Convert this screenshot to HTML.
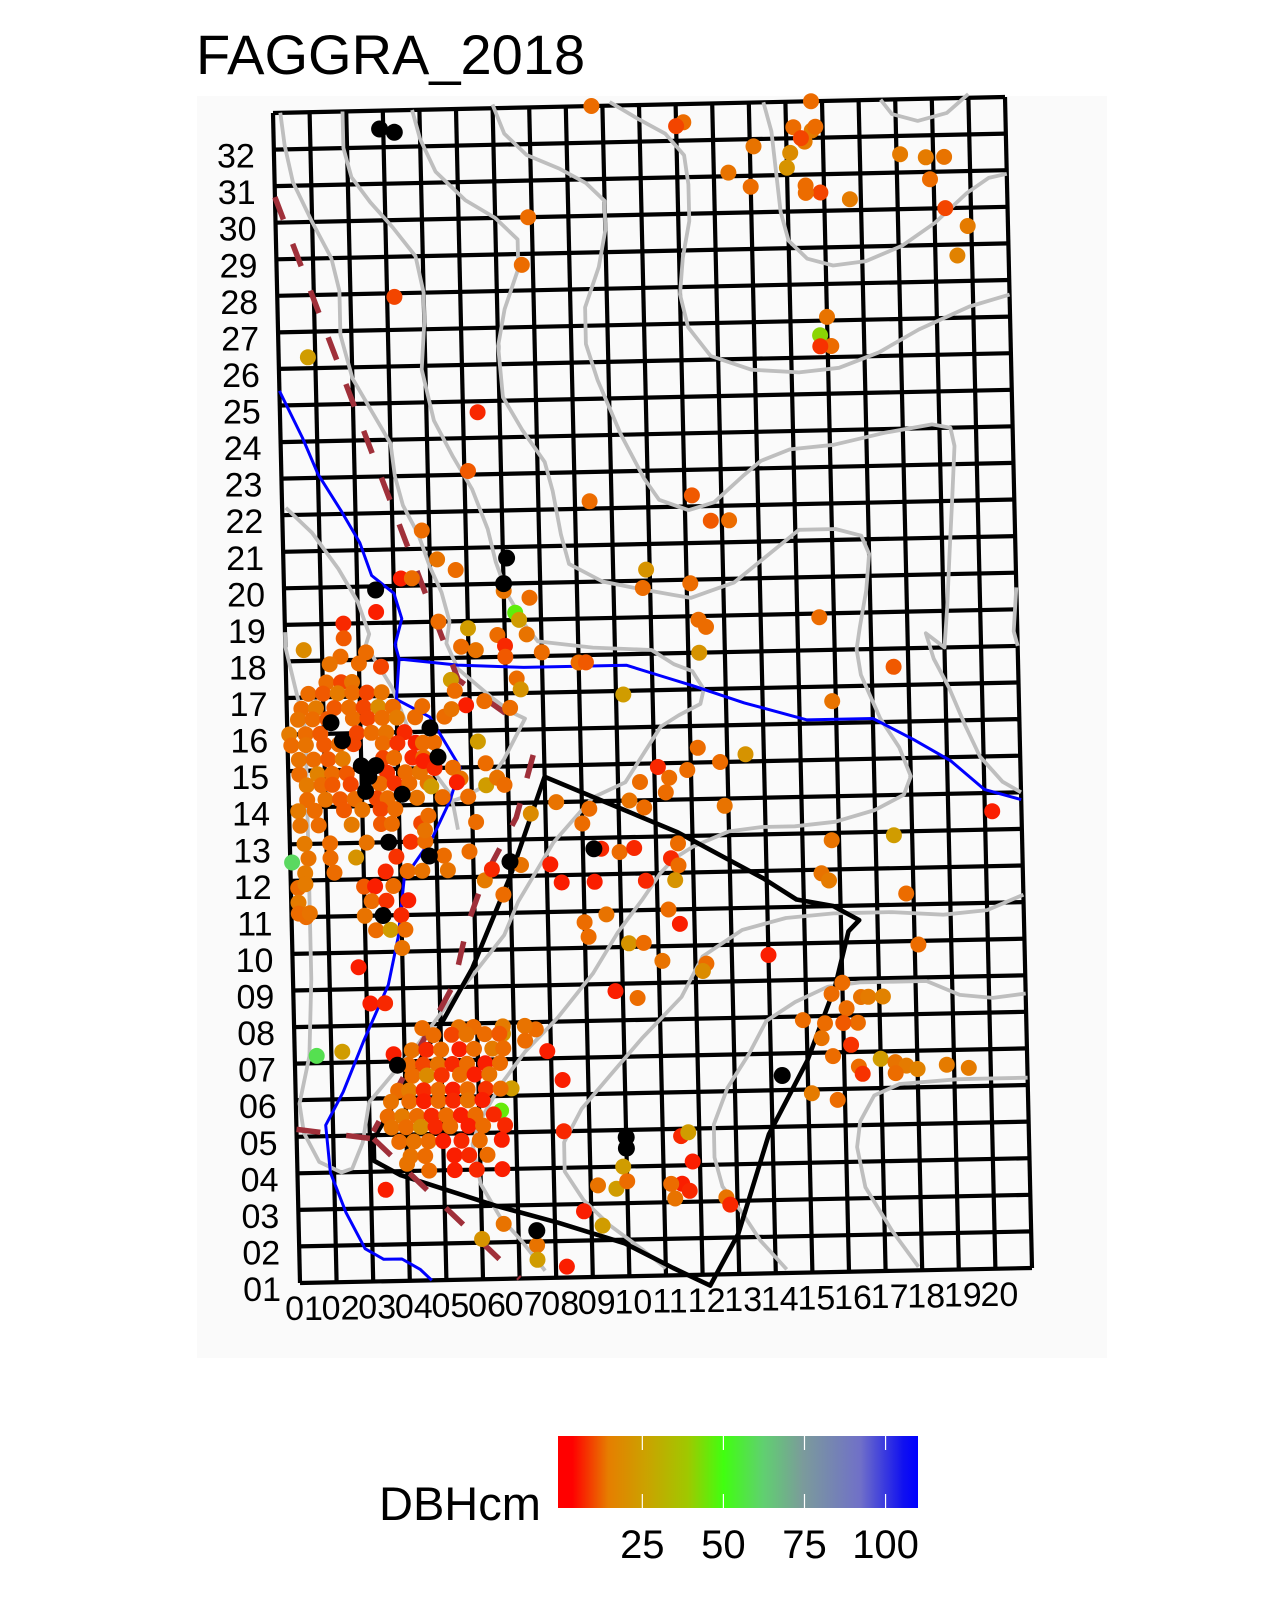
<!DOCTYPE html>
<html><head><meta charset="utf-8"><style>
html,body{margin:0;padding:0;background:#fff;}
svg{display:block;font-family:"Liberation Sans",Arial,sans-serif;}
</style></head><body>
<svg id="chart" width="1284" height="1612" viewBox="0 0 1284 1612" xmlns="http://www.w3.org/2000/svg">
<rect x="0" y="0" width="1284" height="1612" fill="#ffffff"/>
<text x="196" y="74" font-size="56" fill="#000">FAGGRA_2018</text>
<rect x="197" y="96" width="910" height="1262" fill="#fafafa"/>
<g id="gridG"></g>
<g id="contourG"></g>
<g id="streamG"></g>
<g id="plotG"></g>
<g id="dashG"></g>
<g id="treeG"></g>
<g id="deadG"></g>
<g id="rowLabG"></g>
<g id="colLabG"></g>
<g>
<defs><linearGradient id="lg" x1="0" x2="1" y1="0" y2="0">
<stop offset="0" stop-color="#ff0000"/><stop offset="0.04" stop-color="#ff0000"/>
<stop offset="0.14" stop-color="#e67e00"/><stop offset="0.25" stop-color="#c9a400"/>
<stop offset="0.36" stop-color="#a0c800"/><stop offset="0.46" stop-color="#40ff10"/>
<stop offset="0.57" stop-color="#60d070"/><stop offset="0.68" stop-color="#7b9b9b"/>
<stop offset="0.84" stop-color="#7070c8"/><stop offset="0.96" stop-color="#1010f0"/><stop offset="1" stop-color="#0000ff"/>
</linearGradient></defs>
<text x="379" y="1520" font-size="47" fill="#000">DBHcm</text>
<rect x="558" y="1436" width="360" height="72" fill="url(#lg)"/>
<g id="legTicks"></g>
</g>
</svg>
<script>
// ---- data (grid coordinates: column units 0-20, row units 0-32) ----
const colLabels = ["01","02","03","04","05","06","07","08","09","10","11","12","13","14","15","16","17","18","19","20"];
const rowLabels = ["01","02","03","04","05","06","07","08","09","10","11","12","13","14","15","16","17","18","19","20","21","22","23","24","25","26","27","28","29","30","31","32"];
const legendTicks = [25, 50, 75, 100];

const treesNorth = [[8.7,32.0,12],[11.2,31.5,12],[11.0,31.4,8],[14.7,32.0,12],[14.2,31.3,12],[14.7,31.2,16],[14.8,31.3,12],[14.5,30.9,16],[14.1,30.6,20],[14.4,31.0,8],[13.1,30.8,14],[14.0,30.2,22],[12.4,30.1,14],[13.0,29.7,12],[14.5,29.7,12],[14.9,29.5,8],[14.5,29.5,12],[15.7,29.3,16],[17.1,30.5,16],[17.8,30.4,16],[18.3,30.4,14],[17.9,29.8,12],[18.3,29.0,8],[18.9,28.5,16],[18.6,27.7,18],[6.9,29.0,12],[6.7,27.7,12],[3.2,26.9,8],[0.8,25.3,24],[15.0,26.1,14],[14.8,25.6,40],[15.1,25.3,12],[14.8,25.3,6],[5.4,23.7,5],[5.1,22.1,10],[8.4,21.2,12],[11.2,21.3,10],[11.7,20.6,10],[12.2,20.6,12],[9.9,19.3,22],[9.8,18.8,12],[11.1,18.9,12],[11.3,17.9,12],[11.5,17.7,12],[11.3,17.0,22],[14.6,17.9,12],[16.6,16.5,10],[14.9,15.6,14]];

const treesWestUpper = [[3.8,20.5,12],[4.2,19.7,14],[4.7,19.4,12],[3.2,19.2,4],[3.5,19.2,12],[2.5,18.3,4],[6.0,18.8,14],[6.7,18.6,12],[6.3,18.2,46],[6.4,18.0,24],[5.0,17.8,24],[4.2,18.0,12],[1.6,18.0,5],[1.6,17.6,10],[0.5,17.3,20],[1.5,17.1,12],[2.2,17.2,12],[4.8,17.3,12],[5.2,17.2,14],[5.8,17.6,12],[6.0,17.3,5],[6.6,17.6,14],[7.0,17.1,12],[6.0,17.0,10],[8.0,16.8,12],[8.2,16.8,10],[6.3,16.4,12],[6.4,16.1,22],[4.5,16.4,24],[4.6,16.1,12],[4.9,15.7,4],[5.4,15.8,12],[9.2,15.9,24],[6.1,15.6,12],[2.0,16.9,12],[2.6,16.8,8],[1.2,16.9,14]];

const treesWestCluster = [[1.1,16.4,12],[1.5,16.4,8],[1.8,16.4,14],
[0.6,16.1,12],[1.0,16.1,10],[1.4,16.1,16],[1.8,16.1,12],[2.2,16.1,8],[2.6,16.1,14],
[0.4,15.7,12],[0.8,15.7,16],[1.3,15.7,10],[1.7,15.7,12],[2.1,15.7,8],[2.5,15.7,20],[2.9,15.7,12],
[0.3,15.4,14],[0.7,15.4,12],[1.1,15.4,10],[1.8,15.4,12],[2.2,15.4,8],[2.6,15.4,12],[3.0,15.4,16],[3.5,15.4,12],
[0.05,15.0,16],[0.5,15.0,12],[0.9,15.0,10],[1.9,15.0,8],[2.3,15.0,12],[2.7,15.0,14],[3.2,15.0,5],
[0.1,14.7,12],[0.5,14.7,14],[1.0,14.7,10],[1.4,14.7,12],[1.8,14.7,8],[2.6,14.7,12],[3.0,14.7,6],[3.5,14.7,4],[3.7,14.7,12],
[0.3,14.3,14],[0.7,14.3,12],[1.1,14.3,10],[1.5,14.3,16],[2.6,14.3,8],[2.9,14.3,12],[3.4,14.3,5],[3.7,14.3,12],
[0.3,13.9,12],[0.8,13.9,18],[1.2,13.9,12],[1.6,13.9,10],[2.7,13.9,6],[3.2,13.9,12],[3.6,13.9,14],
[0.5,13.6,16],[0.9,13.6,12],[1.2,13.6,10],[1.7,13.6,8],[2.5,13.6,12],[2.9,13.6,6],[3.3,13.6,12],[3.8,13.6,14],
[0.5,13.2,12],[1.0,13.2,14],[1.4,13.2,10],[1.8,13.2,12],[2.4,13.2,8],[2.7,13.2,12],[3.5,13.2,14],
[0.25,12.9,16],[0.7,12.9,12],[1.5,12.9,10],[2.0,12.9,14],[2.5,12.9,8],[2.9,12.9,12],
[0.3,12.5,14],[0.8,12.5,12],[1.7,12.5,16],[2.5,12.5,10],[2.8,12.5,12],[3.6,12.5,8],
[0.4,12.0,16],[1.1,12.0,12],[2.1,12.0,14],[3.3,12.0,6],[3.7,12.0,12],
[0.5,11.6,14],[1.1,11.6,12],[1.8,11.6,22],[2.9,11.6,6],[4.2,11.6,12],
[0.4,11.2,16],[1.2,11.2,12],[2.6,11.2,5],[3.2,11.2,12],[3.6,11.2,14],
[0.2,10.8,12],[2.0,10.8,10],[2.3,10.8,4],[2.8,10.8,12],
[0.2,10.4,16],[2.2,10.4,12],[2.6,10.4,6],[3.2,10.4,4],
[0.4,10.0,12],[2.0,10.0,14],[3.0,10.0,5],
[2.3,9.6,12],[2.7,9.6,24],[3.1,9.6,12],
[3.7,14.2,4],[4.0,14.0,5],[4.5,14.0,12],[4.7,13.7,14],[5.2,14.7,24],[5.4,14.1,12],[5.4,13.5,24],[5.7,13.7,14],[5.9,13.5,12],[3.8,12.7,12],[3.7,12.3,14],[4.2,13.2,12],[4.6,13.6,4],[4.9,13.2,12],[4.3,11.2,14],[4.9,11.7,12],[5.3,10.9,16],[5.1,12.5,12],[3.9,13.5,24],[4.3,15.4,12],[4.5,15.6,14],[3.7,15.7,12],[4.0,14.7,12],
[0.05,11.5,60],[0.2,10.1,12],[0.5,10.1,14],[0.4,10.9,16]];

const treesCenter = [[11.2,14.4,12],[11.8,14.0,12],[12.5,14.2,22],[10.9,13.8,12],[10.1,13.9,5],[10.4,13.6,12],[9.6,13.5,12],[9.3,13.0,14],[10.3,13.2,12],[9.7,12.8,12],[11.9,12.8,14],[8.2,12.8,12],[7.3,13.0,14],[6.6,12.7,20],[8.0,12.4,12],[8.5,11.7,5],[9.0,11.6,12],[9.4,11.7,5],[10.6,11.8,12],[10.4,11.4,5],[10.6,11.2,12],[10.5,10.8,22],[9.7,10.8,5],[8.3,10.8,4],[7.1,11.3,4],[7.4,10.8,4],[6.3,11.3,14],[5.5,11.2,5],[5.8,10.5,12],[14.8,11.8,14],[16.5,11.9,24],[14.5,10.9,14],[14.7,10.7,16],[19.2,12.5,4],[16.8,10.3,12],[10.3,10.0,12],[10.6,9.6,4],[8.6,9.9,14],[8.0,9.7,12],[8.1,9.3,12],[9.2,9.1,22],[9.6,9.1,12],[10.1,8.6,14],[11.3,8.5,12],[11.2,8.3,20],[13.0,8.7,4],[17.1,8.9,12],[8.8,7.8,4],[9.4,7.6,12]];

const treesSouth = [[14.7,7.6,12],[15.0,7.9,12],[13.9,6.9,12],[14.5,6.8,12],[14.4,6.4,14],[14.7,5.9,12],[15.2,6.2,6],[15.5,7.5,14],[15.4,6.8,12],[15.7,7.5,16],[16.1,7.5,18],[15.1,7.2,12],[15.0,6.8,10],[15.4,5.6,12],[15.5,5.4,6],[16.0,5.8,24],[16.4,5.7,14],[16.7,5.6,16],[16.4,5.4,12],[17.0,5.5,18],[17.8,5.6,16],[18.4,5.5,16],[14.8,4.7,12],[14.1,4.9,16],[7.3,5.4,4],[7.3,4.0,5],[8.9,3.0,24],[8.2,2.5,14],[8.7,2.4,24],[9.0,2.6,12],[10.5,3.8,5],[10.7,3.9,24],[10.8,3.1,4],[10.5,2.5,4],[10.7,2.3,5],[10.2,2.5,12],[10.3,2.1,14],[11.7,2.1,14],[11.8,1.9,5],[7.8,1.8,4],[8.3,1.4,24],[6.5,0.9,14],[6.5,0.5,24],[7.3,0.3,4],[5.6,1.5,14],[5.0,1.1,22],[2.4,2.5,4],[3.0,3.2,14],[6.6,6.8,12],[6.3,6.9,14],[5.7,6.7,22],[6.9,6.2,4],[6.3,6.5,12],[5.9,5.2,24],[5.6,4.6,45],[1.8,8.6,4],[2.1,7.6,4],[2.5,7.6,5],[3.0,9.1,14],[0.6,6.2,58],[1.3,6.3,24],[2.7,6.2,4]];

const treesSouthCluster = [[3.5,6.9,12],[4.5,6.9,14],[4.9,6.9,12],[5.7,6.9,16],
[3.8,6.7,12],[4.3,6.7,8],[4.7,6.7,14],[5.2,6.7,12],[5.6,6.7,10],
[3.2,6.3,14],[3.6,6.3,5],[4.0,6.3,12],[4.5,6.3,4],[4.9,6.3,12],[5.4,6.3,16],[5.7,6.3,12],
[3.1,5.9,12],[3.5,5.9,8],[3.9,5.9,14],[4.3,5.9,5],[4.7,5.9,12],[5.2,5.9,4],[5.6,5.9,12],
[3.2,5.6,12],[3.6,5.6,20],[4.0,5.6,6],[4.5,5.6,12],[4.9,5.6,4],[5.3,5.6,14],
[2.8,5.2,12],[3.1,5.2,16],[3.5,5.2,5],[3.9,5.2,12],[4.3,5.2,4],[4.7,5.2,12],[5.2,5.2,6],[5.6,5.2,12],
[2.6,4.9,14],[3.1,4.9,12],[3.5,4.9,4],[3.9,4.9,12],[4.3,4.9,5],[4.7,4.9,14],[5.1,4.9,4],
[2.5,4.5,12],[2.9,4.5,16],[3.3,4.5,12],[3.7,4.5,5],[4.1,4.5,12],[4.5,4.5,4],[4.9,4.5,12],[5.4,4.5,5],
[2.6,4.2,14],[3.0,4.2,12],[3.4,4.2,20],[3.8,4.2,5],[4.2,4.2,12],[4.7,4.2,4],[5.1,4.2,12],[5.7,4.2,5],
[2.8,3.8,12],[3.2,3.8,14],[3.6,3.8,12],[4.0,3.8,4],[4.5,3.8,5],[5.0,3.8,12],[5.6,3.8,4],
[3.1,3.4,14],[3.5,3.4,12],[4.3,3.4,4],[4.7,3.4,5],[5.2,3.4,12],
[3.6,3.0,12],[4.3,3.0,4],[4.9,3.0,5],[5.6,3.0,4]];

const deadTrees = [[2.9,31.5],[3.3,31.4],[6.1,19.7],[6.0,19.0],[2.5,18.9],[1.2,15.3],[1.5,14.8],[2.0,14.1],[2.4,14.1],[2.1,13.4],[2.2,13.8],[3.1,13.3],[3.9,15.1],[4.1,14.3],[2.7,12.0],[3.8,11.6],[2.5,10.0],[8.3,11.7],[6.0,11.4],[13.3,5.4],[9.0,3.8],[9.0,3.5],[6.5,1.3],[2.8,5.9]];

// line features (grid coordinates)
const contourA = [[0.2,32],[0.3,31.1],[0.5,30.1],[1.0,29.0],[1.5,28.0],[1.7,27.1],[1.7,25.9],[2.0,24.7],[2.5,23.8],[3.0,22.9],[3.1,22.0],[3.3,21.2],[3.7,20.4],[4.0,19.5],[4.3,18.8],[4.5,18.0],[4.4,17.4],[4.7,16.7],[5.6,15.9],[6.1,15.5],[6.5,15.3],[5.9,14.2],[5.4,13.5],[4.8,13.2],[4.5,13.1]];
const contourB = [[1.9,32],[1.9,31.0],[2.1,30.2],[2.6,29.5],[3.2,28.8],[3.8,28.0],[4.0,27.0],[4.0,26.2],[3.9,24.9],[4.2,23.5],[4.7,22.5],[5.2,21.6],[5.6,20.5],[5.8,19.6],[6.1,18.7],[6.6,17.8],[6.9,17.4],[8.4,17.2],[10.0,17.1],[10.6,16.7],[11.1,16.5],[11.4,16.0],[11.3,15.6],[10.7,15.3],[10.2,15.0],[9.2,13.5],[8.3,13.1],[7.2,11.9],[6.2,10.3],[5.8,9.4],[4.9,8.3],[4.1,7.4],[3.4,6.5],[2.7,5.7],[2.0,4.9],[1.8,3.8],[1.5,3.1],[1.2,3.0],[0.6,3.3],[0.2,4.1],[0.1,4.9],[0.4,6.2],[0.5,8.3],[0.5,10.6],[0.5,12.9],[0.5,15.1],[0.0,17.4],[0.0,17.8]];
const contourC = [[3.8,32],[4.0,31.2],[4.4,30.3],[5.2,29.5],[6.0,29.0],[6.6,28.4],[6.6,27.6],[6.2,26.5],[6.0,25.5],[6.1,24.1],[6.6,23.2],[7.2,22.3],[7.4,21.5],[7.6,20.3],[7.8,19.5],[8.7,19.0],[9.6,18.8],[10.6,18.6],[11.1,18.5],[12.3,18.9],[13.2,19.6],[14.1,20.3],[15.1,20.3],[15.8,20.1],[16.0,19.6],[15.9,18.6],[15.7,17.6],[15.6,17.0],[15.7,16.3],[16.2,15.1],[16.7,14.3],[17.0,13.5],[16.8,13.0],[16.0,12.6],[14.9,12.3],[13.8,12.2],[12.9,12.2],[12.0,12.1],[11.0,11.7],[10.5,11.4],[10.1,11.0],[9.6,10.3],[8.9,9.4],[8.2,8.3],[7.2,7.1],[6.3,6.2],[5.6,5.3],[5.0,4.3],[4.8,3.7],[5.0,2.6],[5.5,1.7],[6.1,1.0],[6.7,0.2]];
const contourD = [[6.0,32.1],[6.3,31.3],[6.9,30.7],[7.8,30.3],[8.5,29.9],[9.0,29.4],[9.0,28.6],[8.8,27.6],[8.4,26.5],[8.4,25.5],[8.7,24.5],[9.3,23.0],[9.9,21.8],[10.3,21.2],[11.1,20.9],[11.8,21.1],[12.6,21.8],[13.1,22.2],[13.9,22.5],[15.1,22.6],[16.5,22.9],[17.8,23.1],[18.3,23.0],[18.4,22.5],[18.3,21.0],[18.2,19.6],[18.1,18.1],[18.0,17.0],[17.5,17.4],[17.7,16.7],[18.1,15.9],[18.5,14.9],[18.9,14.0],[19.5,13.3],[20,13.0]];
const contourE = [[9.2,32.1],[10.0,31.6],[10.7,31.2],[11.2,30.6],[11.3,29.8],[11.3,28.8],[11.1,27.8],[11.0,26.8],[11.2,25.9],[11.8,25.1],[12.9,24.7],[14.2,24.6],[15.3,24.7],[16.4,25.1],[17.5,25.7],[18.9,26.3],[20,26.6]];
const contourF = [[13.4,32],[13.6,31.2],[13.7,30.1],[13.8,29.0],[14.0,28.2],[14.5,27.7],[15.2,27.5],[16.1,27.6],[17.1,28.0],[18.0,28.6],[18.9,29.4],[19.5,29.8],[20,29.9]];
const contourM = [[16.6,32],[16.9,31.6],[17.6,31.4],[18.4,31.6],[19.0,32.1]];
const contourH = [[0.1,21.2],[0.8,20.5],[1.5,19.5],[2.0,18.6],[2.3,17.7],[2.2,17.4],[2.9,16.2],[3.3,15.1],[3.9,14.0],[4.4,13.3],[4.5,12.9],[4.6,12.3]];
const contourI = [[20,18.6],[19.9,17.4],[20,17.0]];
const contourJ = [[10.0,0.2],[9.4,0.7],[8.5,1.4],[7.8,2.1],[7.3,2.9],[7.3,3.7],[7.8,4.6],[8.6,5.5],[9.5,6.5],[10.0,7.0],[10.6,7.6],[11.2,8.7],[12.3,9.4],[13.5,9.7],[14.8,9.8],[15.5,9.8],[16.4,9.8],[17.8,9.7],[19.0,9.8],[20,10.2]];
const contourK = [[20,7.5],[19.1,7.4],[18.2,7.5],[17.3,7.9],[16.4,7.9],[15.5,7.9],[14.6,7.8],[13.7,7.4],[12.9,6.9],[12.4,6.0],[11.8,5.1],[11.4,4.1],[11.4,3.2],[11.6,2.4],[12.1,1.7],[12.6,0.9],[13.3,0.1]];
const contourL = [[20,5.2],[18.1,5.2],[16.5,5.1],[15.8,4.8],[15.4,4.1],[15.3,3.4],[15.5,2.3],[16.2,1.1],[16.9,0.1]];

const streamMain = [[0,24.4],[0.6,23.1],[1.0,22.1],[1.6,21.1],[2.1,20.2],[2.4,19.3],[3.0,18.8],[3.2,18.1],[3.0,17.4],[3.1,17.0],[4.7,16.8],[6.5,16.7],[9.3,16.7],[10.2,16.4],[11.1,16.1],[12.5,15.6],[14.2,15.1],[16.0,15.1],[17.1,14.5],[18.1,13.9],[19.0,13.1],[20,12.8]];
const streamBranch = [[3.1,17.0],[3.0,15.9],[3.9,15.4],[4.7,14.0],[4.4,13.1],[3.9,12.1],[3.1,11.0],[2.9,9.4],[2.6,8.1],[1.9,6.6],[1.3,5.2],[0.8,4.3],[0.9,3.0],[1.3,1.9],[1.8,0.9],[2.3,0.6],[2.8,0.6],[3.3,0.3],[3.6,0]];

const plotBoundary = [[7.0,13.7],[10.6,12.1],[12.9,10.8],[13.8,10.2],[14.8,10.0],[15.5,9.6],[15.2,9.3],[14.8,7.8],[14.0,5.8],[12.9,3.8],[12.0,1.1],[11.2,-0.3],[10.2,0.2],[8.9,0.9],[7.1,1.5],[5.4,2.0],[2.8,2.9],[2.1,3.3],[2.1,3.9],[2.9,5.2],[3.9,6.8],[4.9,8.5],[6.0,11.0],[7.0,13.7]];

const trail1 = [[0,29.7],[4.7,16.4],[6.45,15.1]];
const trail2 = [[6.7,14.3],[6.2,12.6],[5.3,11.0],[4.8,9.7],[4.4,8.1],[3.6,6.7],[2.8,5.3],[2.1,4.1]];
const trail3 = [[0,4.2],[2.1,3.9]];
const trail4 = [[2.1,3.9],[6.0,0.0]];

// ---- geometry ----
const NS = "http://www.w3.org/2000/svg";
const TL=[273,113], TR=[1005,97], BL=[300,1283], BR=[1032,1268];
function P(u,v){
  const s=u/20, t=v/32;
  const tx=TL[0]+(TR[0]-TL[0])*s, ty=TL[1]+(TR[1]-TL[1])*s;
  const bx=BL[0]+(BR[0]-BL[0])*s, by=BL[1]+(BR[1]-BL[1])*s;
  return [bx+(tx-bx)*t, by+(ty-by)*t];
}
function pathD(pts){return pts.map((p,i)=>{const q=P(p[0],p[1]);return (i?"L":"M")+q[0].toFixed(1)+" "+q[1].toFixed(1);}).join(" ");}
function mk(tag,attrs,parent){const e=document.createElementNS(NS,tag);for(const k in attrs)e.setAttribute(k,attrs[k]);parent.appendChild(e);return e;}

const cStops=[[0,[255,0,0]],[4,[250,30,0]],[12,[236,108,0]],[18,[225,130,0]],[25,[205,160,0]],[37,[160,200,0]],[50,[64,255,16]],[62,[96,208,112]],[75,[123,155,155]],[92,[112,112,200]],[110,[0,0,255]]];
function col(v){
  for(let i=1;i<cStops.length;i++){
    if(v<=cStops[i][0]){const a=cStops[i-1],b=cStops[i];const f=(v-a[0])/(b[0]-a[0]);
      return "rgb("+a[1].map((c,j)=>Math.round(c+(b[1][j]-c)*f)).join(",")+")";}
  }
  return "rgb(0,0,255)";
}

const gridGroup=document.getElementById("gridG");
for(let i=0;i<=20;i++){
  const l=mk("path",{d:pathD([[i,0],[i,32]]),stroke:"#000","stroke-width":4.2,fill:"none"},gridGroup);
  
  
}
for(let j=0;j<=32;j++){
  const l=mk("path",{d:pathD([[0,j],[20,j]]),stroke:"#000","stroke-width":4.2,fill:"none"},gridGroup);
  
  
}
const contourGroup=document.getElementById("contourG");
[contourA,contourB,contourC,contourD,contourE,contourF,contourM,contourH,contourI,contourJ,contourK,contourL].forEach(c=>{
  const l=mk("path",{d:pathD(c),stroke:"#bebebe","stroke-width":3.8,fill:"none","stroke-linejoin":"round"},contourGroup);
  
  
});
const streamGroup=document.getElementById("streamG");
[streamMain,streamBranch].forEach(c=>{
  const l=mk("path",{d:pathD(c),stroke:"#0000ff","stroke-width":3,fill:"none","stroke-linejoin":"round"},streamGroup);
  
  
});
const plotGroup=document.getElementById("plotG");
const pb=mk("path",{d:pathD(plotBoundary),stroke:"#000","stroke-width":4.6,fill:"none","stroke-linejoin":"round"},plotGroup);


const dashGroup=document.getElementById("dashG");
[trail1,trail2,trail3,trail4].forEach(c=>{
  const l=mk("path",{d:pathD(c),stroke:"#a0303a","stroke-width":5.5,fill:"none","stroke-dasharray":"24 26"},dashGroup);
  
  
});
const treeGroup=document.getElementById("treeG");
[treesNorth,treesWestUpper,treesWestCluster,treesCenter,treesSouth,treesSouthCluster].forEach(arr=>{
  arr.forEach(t=>{
    const q=P(t[0],t[1]);
    const c=mk("circle",{cx:q[0].toFixed(1),cy:q[1].toFixed(1),r:8,fill:col(t[2])},treeGroup);
    
    
  });
});
const deadGroup=document.getElementById("deadG");
deadTrees.forEach(t=>{
  const q=P(t[0],t[1]);
  const c=mk("circle",{cx:q[0].toFixed(1),cy:q[1].toFixed(1),r:8.5,fill:"#000"},deadGroup);
  
  
});
const rowLabGroup=document.getElementById("rowLabG");
rowLabels.forEach((s,k)=>{
  const q=P(0,k);
  const t=mk("text",{x:(q[0]-19).toFixed(1),y:(q[1]+18).toFixed(1),"font-size":34,"text-anchor":"end",fill:"#000"},rowLabGroup);
  t.textContent=s;
  
  
});
const colLabGroup=document.getElementById("colLabG");
colLabels.forEach((s,k)=>{
  const q=P(k,0);
  const t=mk("text",{x:(q[0]+4).toFixed(1),y:(q[1]+37).toFixed(1),"font-size":34,"text-anchor":"middle",fill:"#000"},colLabGroup);
  t.textContent=s;
  
  
});
const legGroup=document.getElementById("legTicks");
const legMin=-1, legMax=110, legX0=558, legW=360;
legendTicks.forEach(v=>{
  const x=legX0+(v-legMin)/(legMax-legMin)*legW;
  const a=mk("line",{x1:x,x2:x,y1:1436,y2:1450,stroke:"#fff","stroke-width":1.2},legGroup);
  
  
  const b=mk("line",{x1:x,x2:x,y1:1494,y2:1508,stroke:"#fff","stroke-width":1.2},legGroup);
  
  
  const t=mk("text",{x:x,y:1558,"font-size":40,"text-anchor":"middle",fill:"#000"},legGroup);
  t.textContent=String(v);
  
  
});
</script>
</body></html>
